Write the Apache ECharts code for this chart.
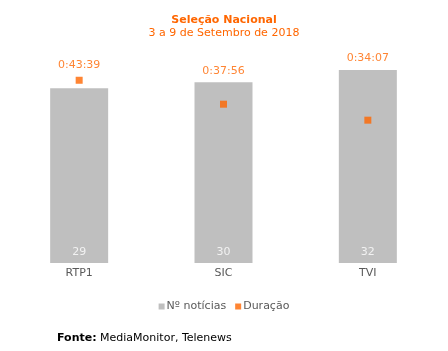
<!DOCTYPE html>
<html>
<head>
<meta charset="utf-8">
<script src="https://cdn.jsdelivr.net/npm/echarts@6/dist/echarts.min.js"></script>
<style>
  html, body { margin: 0; padding: 0; background: #fff; }
  #chartmain { width: 448px; height: 351px; }
</style>
</head>
<body>
<div id="chartmain"></div>
<script>
var canais = ['RTP1', 'SIC', 'TVI'];
var noticias = [29, 30, 32];
// duração em segundos (0:43:39, 0:37:56, 0:34:07)
var duracao = [2619, 2276, 2047];

var maxNoticias = 35;
var maxDuracao = 3024; // 0.035 dias

function fmtTempo(s) {
	var h = Math.floor(s / 3600);
	var m = Math.floor((s % 3600) / 60);
	var ss = s % 60;
	return h + ':' + (m < 10 ? '0' : '') + m + ':' + (ss < 10 ? '0' : '') + ss;
}

// o rótulo da duração fica acima do que estiver mais alto: barra ou ponto
function barraMaisAlta(i) {
	return noticias[i] / maxNoticias >= duracao[i] / maxDuracao;
}

var laranja = '#FF6600';
var fonte = 'DejaVu Sans';

var rotuloDuracao = {
	position: 'top',
	distance: 6,
	color: laranja,
	fontSize: 11,
	fontFamily: fonte,
	formatter: function(p) { return fmtTempo(duracao[p.dataIndex]); }
};

var option = {
	animation: false,
	textStyle: { fontFamily: fonte },
	title: {
		text: 'Seleção Nacional',
		subtext: '3 a 9 de Setembro de 2018',
		left: 'center',
		top: 10,
		itemGap: 2,
		textStyle: { color: laranja, fontSize: 11, fontWeight: 'bold', fontFamily: fonte },
		subtextStyle: { color: laranja, fontSize: 11, fontFamily: fonte }
	},
	legend: {
		bottom: 34,
		left: 'center',
		itemWidth: 6,
		itemHeight: 6,
		itemGap: 9,
		icon: 'rect',
		data: ['Nº notícias', 'Duração'],
		textStyle: { color: '#595959', fontSize: 11, fontFamily: fonte, padding: [0, 0, 0, -3] }
	},
	grid: {
		left: 7,
		right: 8,
		top: 52,
		bottom: 88
	},
	xAxis: {
		type: 'category',
		data: canais,
		axisLine: { show: false },
		axisTick: { show: false },
		axisLabel: { color: '#595959', fontSize: 11, margin: 5, fontFamily: fonte }
	},
	yAxis: [{
		type: 'value',
		min: 0,
		max: maxNoticias,
		show: false
	}, {
		type: 'value',
		min: 0,
		max: maxDuracao,
		show: false
	}],
	series: [{
		name: 'Nº notícias',
		type: 'bar',
		barWidth: 58,
		data: noticias,
		itemStyle: { color: '#BFBFBF' },
		label: {
			show: true,
			position: 'insideBottom',
			distance: 5,
			color: '#F2F2F2',
			fontSize: 11,
			fontFamily: fonte
		}
	}, {
		// rótulos acima das barras (pontos invisíveis no topo de cada barra)
		name: 'rotulo',
		type: 'scatter',
		symbolSize: 0,
		silent: true,
		data: noticias.map(function(v, i) {
			return { value: v, label: { show: barraMaisAlta(i) } };
		}),
		label: rotuloDuracao
	}, {
		name: 'Duração',
		type: 'scatter',
		yAxisIndex: 1,
		symbol: 'rect',
		symbolSize: 7,
		data: duracao.map(function(v, i) {
			return { value: v, label: { show: !barraMaisAlta(i) } };
		}),
		itemStyle: { color: laranja },
		label: rotuloDuracao
	}],
	graphic: [{
		type: 'text',
		left: 57,
		top: 333,
		style: {
			text: '{b|Fonte:} MediaMonitor, Telenews',
			rich: {
				b: { fontWeight: 'bold', fontSize: 11, fill: '#000', fontFamily: fonte }
			},
			fontSize: 11,
			fill: '#000',
			fontFamily: fonte
		}
	}]
};

var myChart = echarts.init(document.getElementById('chartmain'));
myChart.setOption(option);
</script>
</body>
</html>
